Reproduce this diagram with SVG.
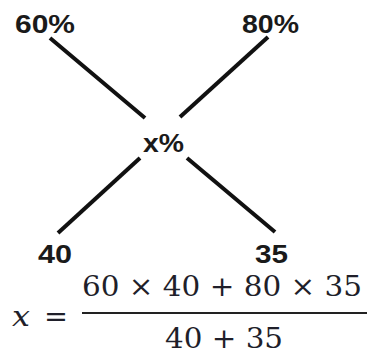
<svg xmlns="http://www.w3.org/2000/svg" width="367" height="354" viewBox="0 0 367 354">
<style>
.lbl{font-family:"Liberation Sans",Arial,sans-serif;font-weight:bold;font-size:26px;fill:#1a1a1a}
.math{font-family:"DejaVu Serif","Liberation Serif",serif;font-size:28px;fill:#1f1f2a}
.ln{stroke:#111;stroke-width:4;stroke-linecap:butt}
</style>
<rect width="367" height="354" fill="#fff"/>
<g id="connectors">
<line class="ln" x1="50" y1="38" x2="145" y2="118"/>
<line class="ln" x1="268" y1="37" x2="180" y2="117"/>
<line class="ln" x1="140" y1="158" x2="58" y2="233"/>
<line class="ln" x1="187" y1="158" x2="275" y2="232"/>
</g>
<g id="n60"><text class="lbl" x="15" y="33" textLength="60" lengthAdjust="spacingAndGlyphs">60%</text></g>
<g id="n80"><text class="lbl" x="242" y="33" textLength="57" lengthAdjust="spacingAndGlyphs">80%</text></g>
<g id="nx"><text class="lbl" x="143" y="152" textLength="41" lengthAdjust="spacingAndGlyphs">x%</text></g>
<g id="n40"><text class="lbl" x="38" y="263" textLength="34" lengthAdjust="spacingAndGlyphs">40</text></g>
<g id="n35"><text class="lbl" x="255" y="263" textLength="33" lengthAdjust="spacingAndGlyphs">35</text></g>
<g id="formula">
<text class="math" x="12" y="326" font-style="italic" textLength="18" lengthAdjust="spacingAndGlyphs">x</text>
<text class="math" x="44" y="326" textLength="24" lengthAdjust="spacingAndGlyphs">=</text>
<text class="math" x="82" y="296" textLength="280" lengthAdjust="spacingAndGlyphs">60 × 40 + 80 × 35</text>
<line x1="82" y1="313" x2="367" y2="313" stroke="#222" stroke-width="2"/>
<text class="math" x="165" y="348" textLength="118" lengthAdjust="spacingAndGlyphs">40 + 35</text>
</g>
</svg>
